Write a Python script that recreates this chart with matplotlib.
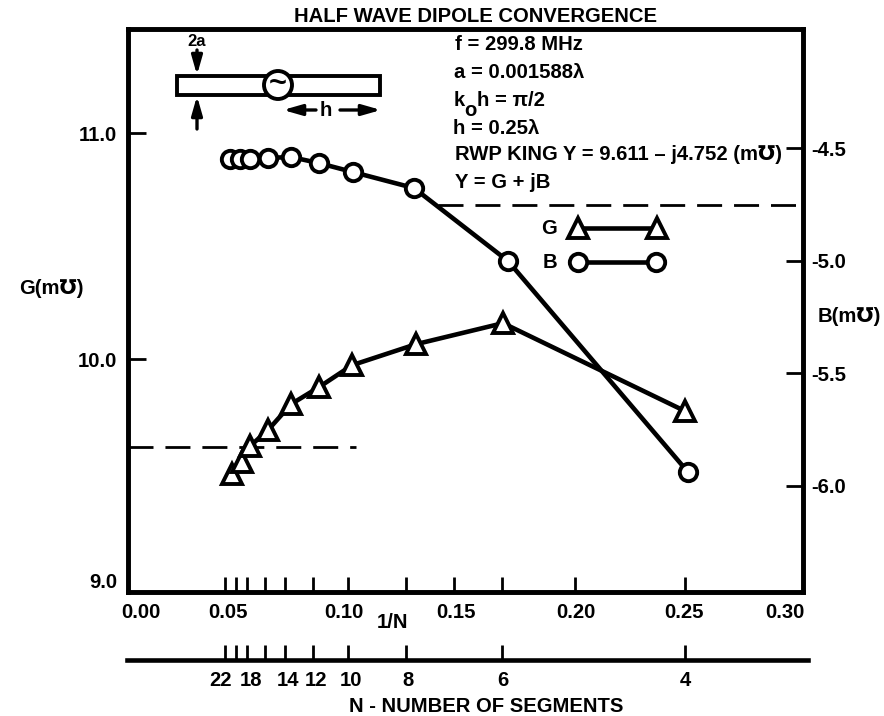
import matplotlib
matplotlib.use('Agg')
import matplotlib.pyplot as plt
from matplotlib.patches import Rectangle, Circle

plt.rcParams['font.family'] = ['Liberation Sans', 'DejaVu Sans']
plt.rcParams['font.weight'] = 'bold'
plt.rcParams['font.size'] = 14.6

# data
g_x = [.0485, .0530, .0565, .0645, .0748, .0872, .1019, .1304, .1691, .2501]
g_y = [9.491, 9.544, 9.615, 9.686, 9.801, 9.876, 9.973, 10.066, 10.159, 9.770]
b_x = [.0476, .0521, .0565, .0645, .0748, .0872, .1024, .1295, .1713, .2514]
b_y = [-4.549, -4.549, -4.549, -4.544, -4.540, -4.567, -4.607, -4.678, -5.002, -5.940]
g_king = 9.611
b_king = -4.752

x_label_pos = [.0080, .0468, .0983, .1482, .2016, .2497, .2946]
x_labels = ['0.00', '0.05', '0.10', '0.15', '0.20', '0.25', '0.30']
x_ticks = [.0454, .0503, .0552, .0632, .0721, .0846, .1001, .1259, .1473, .1687, .2012, .2501]
n_ticks = [.0454, .0503, .0552, .0632, .0721, .0846, .1001, .1259, .1687, .2501]
n_label_pos = [.0436, .0570, .0735, .0859, .1015, .1269, .1691, .2501]
n_labels = ['22', '18', '14', '12', '10', '8', '6', '4']
g_ticks = [10.0, 11.0]
g_label_pos = [9.02, 10.0, 11.0]
g_labels = ['9.0', '10.0', '11.0']
b_ticks = [-4.5, -5.0, -5.5, -6.0]
b_labels = ['-4.5', '-5.0', '-5.5', '-6.0']

W, H = 884, 716
LW = 3.3
fig = plt.figure(figsize=(W / 100, H / 100), dpi=100)
L, R, T, B = 128, 803, 29, 592
ax = fig.add_axes([L / W, 1 - B / H, (R - L) / W, (B - T) / H])
ax.set_xlim(.0022, .3026)
ax.set_ylim(8.97, 11.46)
for s in ax.spines.values():
    s.set_linewidth(LW)

# the labels do not sit exactly on the ticks in the scan
ax.xaxis.remove_overlapping_locs = False
ax.yaxis.remove_overlapping_locs = False
ax.set_xticks(x_label_pos, x_labels)
ax.set_xticks(x_ticks, minor=True)
ax.tick_params(axis='x', which='major', length=0, pad=8)
ax.tick_params(axis='x', which='minor', direction='in', length=11, width=2)
ax.set_yticks(g_label_pos, g_labels)
ax.set_yticks(g_ticks, minor=True)
ax.tick_params(axis='y', which='major', length=0, pad=8)
ax.tick_params(axis='y', which='minor', direction='in', length=13, width=2)

ax2 = ax.twinx()
ax2.set_ylim(-6.473, -3.971)
ax2.set_yticks(b_ticks, b_labels)
ax2.tick_params(axis='y', direction='in', length=12, width=2, pad=6)
for s in ax2.spines.values():
    s.set_linewidth(LW)

ax.plot([.0022, .1038], [g_king, g_king], color='k', lw=2, dashes=(9, 4.3))
ax2.plot([.1400, .3026], [b_king, b_king], color='k', lw=2, dashes=(9, 4.3))
ax.plot(g_x, g_y, color='k', lw=LW, marker='^', ms=14, mfc='w', mec='k', mew=2.8)
ax2.plot(b_x, b_y, color='k', lw=LW, marker='o', ms=12.5, mfc='w', mec='k', mew=2.8)

# lower N axis
ax3 = fig.add_axes([127 / W, 1 - 660 / H, 681 / W, 30 / H])
ax3.set_xlim((127 - 123) / 2247, (808 - 123) / 2247)
ax3.patch.set_alpha(0)
for k in ['top', 'left', 'right']:
    ax3.spines[k].set_visible(False)
ax3.spines['bottom'].set_linewidth(LW)
ax3.set_yticks([])
ax3.xaxis.remove_overlapping_locs = False
ax3.set_xticks(n_label_pos, n_labels)
ax3.set_xticks(n_ticks, minor=True)
ax3.tick_params(axis='x', which='major', length=0, pad=8)
ax3.tick_params(axis='x', which='minor', direction='in', length=11, width=2)

# everything else in picture pixels
ov = fig.add_axes([0, 0, 1, 1])
ov.set_xlim(0, W)
ov.set_ylim(H, 0)
ov.axis('off')
ov.patch.set_alpha(0)

def txt(x, y, s, ha='left', **kw):
    ov.text(x, y, s, ha=ha, va='center', **kw)

txt(476, 16, 'HALF WAVE DIPOLE CONVERGENCE', ha='center')
txt(486, 706, 'N - NUMBER OF SEGMENTS', ha='center')
txt(393, 622, '1/N', ha='center')
txt(51, 289, 'G(m\u2127)', ha='center')
txt(849, 316, 'B(m\u2127)', ha='center')

txt(455, 45, 'f = 299.8 MHz')
txt(454, 73, 'a = 0.001588\u03bb')
txt(454, 101, 'k')
txt(464, 110, 'o')
txt(477, 101, 'h = \u03c0/2')
txt(453, 128, 'h = 0.25\u03bb')
txt(455, 155, 'RWP KING Y = 9.611 \u2013 j4.752 (m\u2127)')
txt(455, 183, 'Y = G + jB')

# legend
txt(541, 229, 'G')
txt(543, 263, 'B')
ov.plot([578, 657], [228, 228], color='k', lw=LW, marker='^', ms=14, mfc='w', mec='k', mew=2.8)
ov.plot([578, 656], [262, 262], color='k', lw=LW, marker='o', ms=12.5, mfc='w', mec='k', mew=2.8)

# dipole sketch
ov.add_patch(Rectangle((177, 76), 203, 19, fc='w', ec='k', lw=2.8))
ov.add_patch(Circle((278, 85), 14, fc='w', ec='k', lw=2.8, zorder=3))
txt(278, 84, '~', ha='center', fontsize=22, zorder=4)
txt(197, 41, '2a', ha='center', fontsize=12)
arrow = dict(arrowstyle='-|>,head_length=0.7,head_width=0.2', color='k', lw=2.4,
             mutation_scale=16, shrinkA=0, shrinkB=0)
ov.annotate('', xy=(197, 75), xytext=(197, 50), arrowprops=arrow)
ov.annotate('', xy=(197, 96), xytext=(197, 129), arrowprops=arrow)
ov.annotate('', xy=(283, 110), xytext=(316, 110), arrowprops=arrow)
ov.annotate('', xy=(381, 110), xytext=(340, 110), arrowprops=arrow)
txt(326, 110, 'h', ha='center')

plt.savefig('out.png', dpi=100)
